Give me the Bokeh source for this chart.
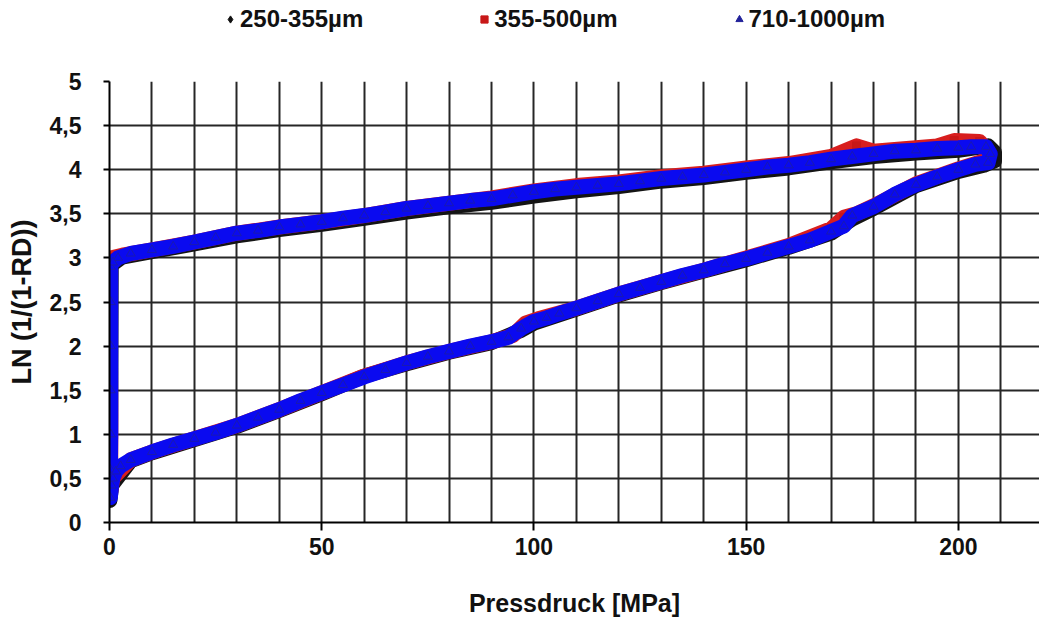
from bokeh.plotting import figure
from bokeh.layouts import column
from bokeh.models import Range1d, FixedTicker, Legend, LegendItem
from bokeh.embed import file_html
from bokeh.resources import INLINE

# ---- data ----
series_names = ["250-355µm", "355-500µm", "710-1000µm"]

# 250-355 µm (black diamonds)
x_a = [0.4, 0.3, 0.2, 0.1, 0.5, 5, 10, 20, 30, 40, 50, 60, 70, 80, 90, 97, 100, 110, 120, 130, 140, 150,
       160, 170, 175, 180, 190, 200, 206, 208.5, 208.5, 207, 200, 190, 180, 170, 160, 150, 140, 130, 120,
       110, 100, 90, 80, 70, 60, 50, 40, 30, 20, 10, 3, 1]
y_a = [2.9, 1.5, 0.5, 0.25, 0.42, 0.70, 0.79, 0.94, 1.09, 1.27, 1.46, 1.66, 1.80, 1.93, 2.04, 2.18, 2.26,
       2.42, 2.58, 2.72, 2.85, 2.98, 3.12, 3.28, 3.44, 3.56, 3.82, 3.98, 4.05, 4.10, 4.20, 4.27, 4.22, 4.19,
       4.15, 4.09, 4.02, 3.97, 3.91, 3.87, 3.81, 3.76, 3.70, 3.63, 3.58, 3.52, 3.45, 3.38, 3.32, 3.25, 3.16,
       3.07, 3.01, 2.94]

# 355-500 µm (red squares)
x_b = [0.2, 0.2, 0.3, 0.3, 0.8, 5, 10, 20, 30, 40, 50, 60, 70, 80, 90, 95, 98, 101, 110, 120, 130, 140,
       150, 160, 170, 173, 176, 180, 190, 200, 206, 207, 205, 199, 195, 190, 180, 176, 170, 160, 150, 140,
       130, 120, 110, 100, 90, 80, 70, 60, 50, 40, 30, 20, 10, 3, 0.5]
y_b = [3.0, 2.2, 1.2, 0.35, 0.5, 0.71, 0.80, 0.95, 1.10, 1.28, 1.47, 1.66, 1.81, 1.94, 2.05, 2.12, 2.26,
       2.31, 2.43, 2.59, 2.73, 2.86, 3.00, 3.14, 3.33, 3.46, 3.50, 3.59, 3.84, 4.01, 4.10, 4.20, 4.32,
       4.33, 4.27, 4.25, 4.21, 4.27, 4.15, 4.07, 4.02, 3.96, 3.92, 3.86, 3.82, 3.76, 3.68, 3.62, 3.56,
       3.48, 3.41, 3.35, 3.28, 3.18, 3.09, 3.03, 3.0]

# 710-1000 µm (blue triangles)
x_c = [0.3, 0.3, 0.3, 0.3, 0.3, 0.2, 0.2, 0.5, 0.8, 1.5, 2.6, 5, 10, 15, 20, 25, 30, 35, 40, 45, 50, 55,
       60, 65, 70, 75, 80, 85, 90, 94, 97, 100, 103, 106, 110, 115, 120, 125, 130, 135, 140, 145, 150,
       155, 160, 165, 170, 173, 175, 180, 185, 190, 195, 200, 204, 207, 207.5, 206.5, 203, 200, 195, 190,
       185, 180, 175, 170, 165, 160, 155, 150, 145, 140, 135, 130, 125, 120, 115, 110, 105, 100, 95, 90,
       85, 80, 75, 70, 65, 60, 55, 50, 45, 40, 35, 30, 25, 20, 15, 10, 5, 2, 0.8]
y_c = [2.9, 2.5, 2.0, 1.5, 1.0, 0.6, 0.28, 0.42, 0.5, 0.58, 0.64, 0.71, 0.80, 0.88, 0.95, 1.02, 1.10,
       1.19, 1.28, 1.38, 1.47, 1.56, 1.65, 1.73, 1.81, 1.88, 1.94, 2.00, 2.05, 2.10, 2.20, 2.28, 2.32,
       2.37, 2.43, 2.51, 2.59, 2.66, 2.73, 2.80, 2.86, 2.93, 2.99, 3.06, 3.13, 3.20, 3.30, 3.36, 3.48,
       3.58, 3.72, 3.83, 3.92, 4.00, 4.06, 4.08, 4.18, 4.26, 4.26, 4.25, 4.24, 4.22, 4.21, 4.18, 4.15,
       4.12, 4.08, 4.05, 4.03, 4.00, 3.97, 3.94, 3.92, 3.90, 3.87, 3.84, 3.82, 3.80, 3.78, 3.75, 3.71,
       3.67, 3.65, 3.62, 3.59, 3.56, 3.52, 3.48, 3.45, 3.41, 3.38, 3.35, 3.31, 3.28, 3.23, 3.18, 3.13,
       3.09, 3.05, 3.00, 2.95]

x_ticks = [0, 50, 100, 150, 200]
x_grid = [0, 10, 20, 30, 40, 50, 60, 70, 80, 90, 100, 110, 120, 130, 140, 150, 160, 170, 180, 190, 200, 210]
y_ticks = [0, 0.5, 1, 1.5, 2, 2.5, 3, 3.5, 4, 4.5, 5]
y_labels = ["0", "0,5", "1", "1,5", "2", "2,5", "3", "3,5", "4", "4,5", "5"]

FONT = "Liberation Sans"
COL_A, COL_B, COL_C = "#111111", "#C81818", "#22229A"

# ---------- main chart ----------
p = figure(width=1039, height=552, output_backend="svg", toolbar_location=None,
           x_range=Range1d(0, 219.1), y_range=Range1d(0, 5.0),
           min_border_left=109, min_border_right=0, min_border_top=14, min_border_bottom=96)
p.outline_line_color = None
p.background_fill_color = "white"
p.border_fill_color = "white"

p.xgrid.ticker = FixedTicker(ticks=x_grid)
p.ygrid.ticker = FixedTicker(ticks=y_ticks)
for g in (p.xgrid, p.ygrid):
    g.grid_line_color = "#262626"
    g.grid_line_width = 2

p.xaxis.ticker = FixedTicker(ticks=x_ticks)
p.yaxis.ticker = FixedTicker(ticks=y_ticks)
p.yaxis.major_label_overrides = {t: l for t, l in zip(y_ticks, y_labels)}
for ax in (p.xaxis, p.yaxis):
    ax.axis_line_color = "black"
    ax.axis_line_width = 2
    ax.major_tick_line_color = "black"
    ax.major_tick_line_width = 2
    ax.major_tick_in = 0
    ax.minor_tick_line_color = None
    ax.major_label_text_font = FONT
    ax.major_label_text_font_style = "bold"
    ax.major_label_text_font_size = "23px"
    ax.major_label_text_color = "#111111"
    ax.axis_label_text_font = FONT
    ax.axis_label_text_font_style = "bold"
    ax.axis_label_text_color = "#111111"
p.xaxis.axis_label_text_font_size = "25px"
p.yaxis.axis_label_text_font_size = "27px"
p.xaxis.major_tick_out = 8
p.yaxis.major_tick_out = 6
p.xaxis.major_label_standoff = 7
p.yaxis.major_label_standoff = 22
p.xaxis.axis_label = "Pressdruck [MPa]"
p.yaxis.axis_label = "LN (1/(1-RD))"
p.xaxis.axis_label_standoff = 31
p.yaxis.axis_label_standoff = 10

band_w = 15
p.line(x_a, y_a, line_color="#141414", line_width=band_w, line_join="round", line_cap="round")
p.scatter(x_a, y_a, marker="diamond", size=10, fill_color=COL_A, line_color=COL_A)
p.line(x_b, y_b, line_color="#D81E1E", line_width=band_w, line_join="round", line_cap="round")
p.scatter(x_b, y_b, marker="square", size=8, fill_color=COL_B, line_color=COL_B)
p.line(x_c, y_c, line_color="#0A0AF0", line_width=band_w, line_join="round", line_cap="round")
p.scatter(x_c, y_c, marker="triangle", size=9, fill_color="#0A0AF0", line_color="#1A1AB0", line_width=1)

# ---------- legend strip (series markers are drawn out of view; only the legend shows) ----------
top = figure(width=1039, height=67, output_backend="svg", toolbar_location=None,
             x_range=Range1d(0, 1), y_range=Range1d(100, 101),
             x_axis_location=None, y_axis_location=None,
             min_border_left=0, min_border_right=0, min_border_top=0, min_border_bottom=0)
top.grid.visible = False
top.outline_line_color = None
top.border_fill_color = "white"
top.background_fill_color = "white"
la = top.scatter(x_a, y_a, marker="diamond", fill_color=COL_A, line_color=COL_A)
lb = top.scatter(x_b, y_b, marker="square", fill_color=COL_B, line_color=COL_B)
lc = top.scatter(x_c, y_c, marker="triangle", fill_color=COL_C, line_color=COL_C)

legend = Legend(items=[LegendItem(label=series_names[0], renderers=[la]),
                       LegendItem(label=series_names[1], renderers=[lb]),
                       LegendItem(label=series_names[2], renderers=[lc])],
                orientation="horizontal", location=(112, 34))
legend.border_line_color = None
legend.background_fill_alpha = 0
legend.padding = 4
legend.margin = 0
legend.spacing = 112
legend.glyph_width = 18
legend.glyph_height = 20
legend.label_standoff = 1
legend.label_text_font = FONT
legend.label_text_font_style = "bold"
legend.label_text_font_size = "24px"
legend.label_text_color = "#111111"
top.add_layout(legend)

layout = column(top, p, spacing=0)
open("out.html", "w").write(file_html(layout, INLINE))
